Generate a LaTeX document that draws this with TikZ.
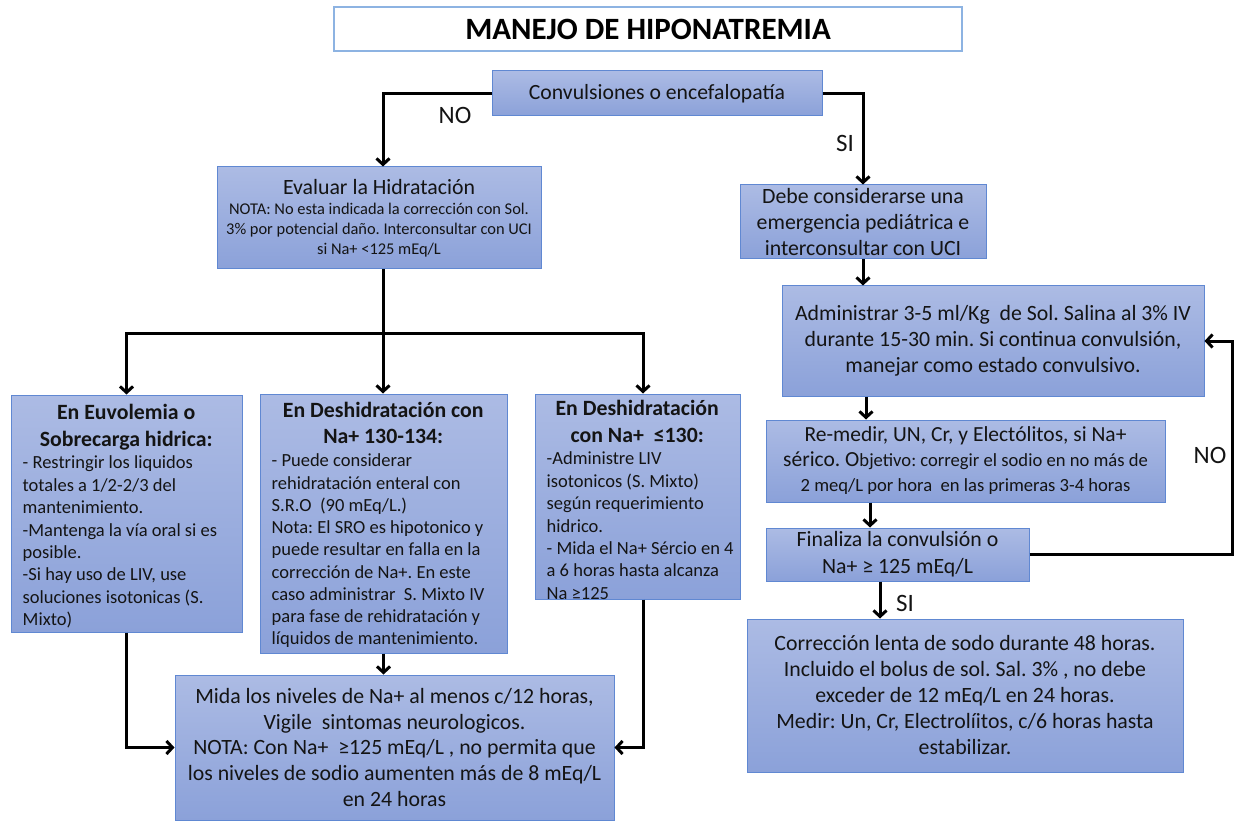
\documentclass[tikz,border=0pt]{standalone}
\usepackage{fontspec}
\setmainfont{Carlito}
\usetikzlibrary{arrows.meta,calc}
\definecolor{boxtop}{RGB}{172,187,228}
\definecolor{boxbot}{RGB}{139,161,217}
\definecolor{boxline}{RGB}{96,136,210}
\definecolor{titleline}{RGB}{141,179,226}
\definecolor{txt}{RGB}{20,20,20}
\frenchspacing
\begin{document}
\begin{tikzpicture}[x=1pt,y=-1pt,
  box/.style={draw=boxline, line width=1pt, top color=boxtop, bottom color=boxbot, inner sep=0pt, align=center, text=txt},
  titlebox/.style={draw=titleline, line width=1.5pt, fill=white, inner sep=0pt, text=black, font=\fontsize{31}{36}\selectfont\bfseries},
  arr/.style={draw=black, line width=3pt, -{Straight Barb[length=6pt,width=13pt]}},
  seg/.style={draw=black, line width=3pt},
  lab/.style={font=\fontsize{25}{28}\selectfont, text=txt, inner sep=0pt},
  big/.style={font=\fontsize{21.7}{26}\selectfont},
  bodytext/.style={anchor=base west, inner sep=0pt, text=txt},
]
\useasboundingbox (0,0) rectangle (1235,821);
\fill[white] (0,0) rectangle (1235,821);

% title
\node[titlebox, minimum width=628pt, minimum height=44pt] (title) at (648,29) {MANEJO DE HIPONATREMIA};

% top decision
\node[box, big, minimum width=330pt, minimum height=45pt] (conv) at (657,93.5) {Convulsiones o encefalopatía};

% left branch
\node[box, minimum width=324pt, minimum height=102pt, font=\fontsize{16.4}{20}\selectfont] (eval) at (379,218)
  {{\fontsize{21.8}{24}\selectfont Evaluar la Hidratación}\\ NOTA: No esta indicada la corrección con Sol.\\ 3\% por potencial daño. Interconsultar con UCI\\ si Na+ <125 mEq/L};

\node[box, minimum width=231pt, minimum height=237pt] (euv) at (126.5,513.5) {};
\node[box, minimum width=247pt, minimum height=259pt] (deh1) at (383.5,523.5) {};
\node[box, minimum width=205pt, minimum height=205pt] (deh2) at (637.5,496.5) {};

\node[bodytext] (euvt) at ($(euv.north west)+(12,25)$) {\begin{minipage}[t]{300pt}\raggedright
\fontsize{21.8}{27}\selectfont\bfseries
\makebox[207pt]{En Euvolemia o}\\
\makebox[207pt]{Sobrecarga hidrica:}\par
\fontsize{18.5}{22.4}\selectfont\mdseries
- Restringir los liquidos\\
totales a 1/2-2/3 del\\
mantenimiento.\\
-Mantenga la vía oral si es\\
posible.\\
-Si hay uso de LIV, use\\
soluciones isotonicas (S.\\
Mixto)
\end{minipage}};

\node[bodytext] (deh1t) at ($(deh1.north west)+(12,24)$) {\begin{minipage}[t]{300pt}\raggedright
\fontsize{21.8}{26}\selectfont\bfseries
\makebox[223pt]{En Deshidratación con}\\
\makebox[223pt]{Na+ 130-134:}\par
\fontsize{18.5}{22.25}\selectfont\mdseries
\vspace*{1pt}- Puede considerar\\
rehidratación enteral con\\
S.R.O\ \ (90 mEq/L.)\\
Nota: El SRO es hipotonico y\\
puede resultar en falla en la\\
corrección de Na+. En este\\
caso administrar\ \ S. Mixto IV\\
para fase de rehidratación y\\
líquidos de mantenimiento.
\end{minipage}};

\node[bodytext] (deh2t) at ($(deh2.north west)+(12,22)$) {\begin{minipage}[t]{300pt}\raggedright
\fontsize{21.8}{27}\selectfont\bfseries
\makebox[181pt]{En Deshidratación}\\
\makebox[181pt]{con Na+\ \ ≤130:}\par
\fontsize{18.5}{22.4}\selectfont\mdseries
-Administre LIV\\
isotonicos (S. Mixto)\\
según requerimiento\\
hidrico.\\
- Mida el Na+ Sércio en 4\\
a 6 horas hasta alcanza\\
Na ≥125
\end{minipage}};

\node[box, minimum width=439pt, minimum height=145pt, font=\fontsize{21.8}{25.8}\selectfont] (mida) at (394.5,747.5)
  {Mida los niveles de Na+ al menos c/12 horas,\\ Vigile\ \ sintomas neurologicos.\\ NOTA: Con Na+\ \ ≥125 mEq/L , no permita que\\ los niveles de sodio aumenten más de 8 mEq/L\\ en 24 horas};

% right branch
\node[box, minimum width=246pt, minimum height=74pt, font=\fontsize{21.8}{26}\selectfont] (debe) at (863,222)
  {Debe considerarse una\\ emergencia pediátrica e\\ interconsultar con UCI};
\node[box, minimum width=422pt, minimum height=110pt, font=\fontsize{21.8}{26}\selectfont] (admin) at (993,341)
  {Administrar 3-5 ml/Kg\ \ de Sol. Salina al 3\% IV\\ durante 15-30 min. Si continua convulsión,\\ manejar como estado convulsivo.};
\node[box, minimum width=399pt, minimum height=82pt, font=\fontsize{18.6}{25}\selectfont] (remed) at (965.5,461)
  {{\fontsize{21.5}{25}\selectfont Re-medir, UN, Cr, y Electólitos, si Na+}\\ {\fontsize{21.5}{25}\selectfont sérico. O}bjetivo: corregir el sodio en no más de\\ 2 meq/L por hora\ \ en las primeras 3-4 horas};
\node[box, minimum width=263pt, minimum height=53pt, font=\fontsize{21.8}{27}\selectfont] (fin) at (897.5,554.5)
  {Finaliza la convulsión o\\ Na+ ≥ 125 mEq/L};
\node[box, minimum width=436pt, minimum height=153pt, font=\fontsize{21.8}{26}\selectfont] (corr) at (965,695.5)
  {Corrección lenta de sodo durante 48 horas.\\ Incluido el bolus de sol. Sal. 3\% , no debe\\ exceder de 12 mEq/L en 24 horas.\\ Medir: Un, Cr, Electrolíitos, c/6 horas hasta\\ estabilizar.};

% labels
\node[lab] (no1) at (455,115) {NO};
\node[lab] (si1) at (845,143) {SI};
\node[lab] (no2) at (1210,455) {NO};
\node[lab] (si2) at (905,603) {SI};

% connectors
\draw[arr] (conv.west) -| ([xshift=4pt]eval.north);
\draw[arr] (conv.east) -| (debe.north);
\coordinate (br) at (383,333);
\draw[seg] ([xshift=4pt]eval.south) -- (br);
\draw[arr] (br) -| (euv.north);
\draw[arr] (br) -- (br |- deh1.north);
\draw[arr] (br) -| ([xshift=5.5pt]deh2.north);
\draw[arr] (euv.south) |- (mida.west);
\draw[arr] (deh1.south) -- (deh1.south |- mida.north);
\draw[arr] ([xshift=5.5pt]deh2.south) |- (mida.east);

\draw[arr] (debe.south) -- (debe.south |- admin.north);
\draw[arr] ([xshift=-127pt]admin.south) -- ([xshift=-127pt]admin.south |- remed.north);
\draw[arr] ([xshift=-17.5pt]fin.south) -- ([xshift=-17.5pt]fin.south |- corr.north);
\draw[arr] ([xshift=-95.5pt]remed.south) -- ([xshift=-95.5pt]remed.south |- fin.north);
\coordinate (lp) at (1232,554.5);
\draw[arr] (fin.east) -- (lp) |- (admin.east);
\end{tikzpicture}
\end{document}
